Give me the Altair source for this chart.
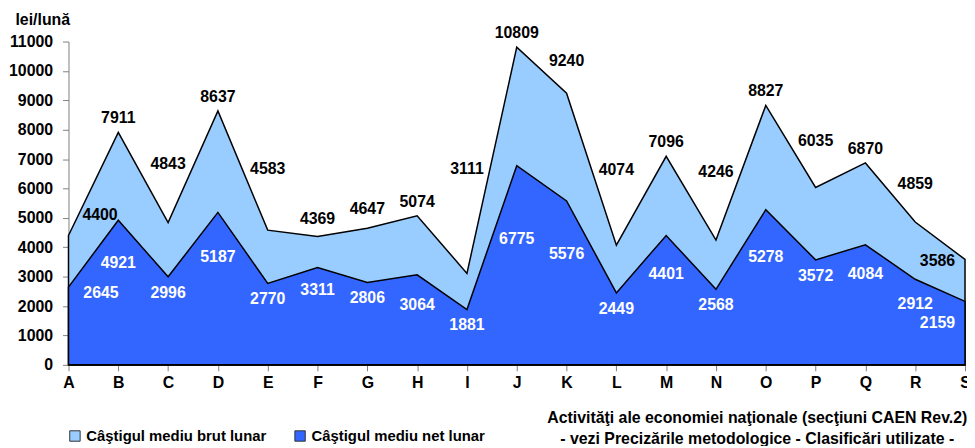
import altair as alt
import pandas as pd

cats = list("ABCDEFGHIJKLMNOPQRS")
brut = [4400, 7911, 4843, 8637, 4583, 4369, 4647, 5074, 3111, 10809,
        9240, 4074, 7096, 4246, 8827, 6035, 6870, 4859, 3586]
net = [2645, 4921, 2996, 5187, 2770, 3311, 2806, 3064, 1881, 6775,
       5576, 2449, 4401, 2568, 5278, 3572, 4084, 2912, 2159]
series_names = ["Câştigul mediu brut lunar", "Câştigul mediu net lunar"]
y_ticks = list(range(0, 11001, 1000))
x_title = ["Activităţi ale economiei naţionale (secţiuni CAEN Rev.2)",
           "- vezi Precizările metodologice - Clasificări utilizate -"]

rows = []
for c, v in zip(cats, brut):
    rows.append({"cat": c, "val": v, "serie": series_names[0]})
for c, v in zip(cats, net):
    rows.append({"cat": c, "val": v, "serie": series_names[1]})
df = pd.DataFrame(rows)

FONT = "Liberation Sans"

x_enc = alt.X("cat:N", sort=cats, scale=alt.Scale(padding=0),
              axis=alt.Axis(title=x_title, labelAngle=0, labelFontSize=16,
                            labelFontWeight="bold", labelColor="black",
                            labelPadding=4, tickSize=6, tickColor="#808080",
                            domainColor="black", titleFontSize=16,
                            titleFontWeight="bold", titleColor="black",
                            titleAlign="center", titleAnchor="start",
                            titleX=694, titleY=45, titleBaseline="top",
                            titleLineHeight=21))


def y_enc(field):
    return alt.Y(f"{field}:Q", stack=None,
                 scale=alt.Scale(domain=[0, 11000], nice=False),
                 axis=alt.Axis(title="lei/lună", values=y_ticks, format="d",
                               labelOverlap=False, grid=False,
                               labelFontSize=16, labelFontWeight="bold",
                               labelColor="black", labelPadding=10, tickSize=6,
                               tickColor="#808080", domainColor="#808080",
                               titleAngle=0, titleAlign="left", titleX=-54,
                               titleY=-22, titleBaseline="middle",
                               titleFontSize=16, titleFontWeight="bold",
                               titleColor="black"))


color_enc = alt.Color("serie:N",
                      scale=alt.Scale(domain=series_names,
                                      range=["#99CCFF", "#3366FF"]),
                      legend=alt.Legend(title=None, orient="none",
                                        direction="horizontal",
                                        legendX=-1, legendY=390,
                                        symbolType="square", symbolSize=110,
                                        symbolStrokeColor="#333333",
                                        symbolStrokeWidth=1,
                                        symbolOpacity=1,
                                        labelFontSize=15,
                                        labelFontWeight="bold",
                                        labelColor="black", labelLimit=400,
                                        labelOffset=4, columnPadding=26,
                                        padding=0))

base = alt.Chart(df)

area_brut = base.transform_filter(
    alt.datum.serie == series_names[0]
).mark_area(stroke="black", strokeWidth=1.5, opacity=1).encode(
    x=x_enc, y=y_enc("val"), color=color_enc)
area_net = base.transform_filter(
    alt.datum.serie == series_names[1]
).mark_area(stroke="black", strokeWidth=1.5, opacity=1).encode(
    x=x_enc, y=y_enc("val"), color=color_enc)

# label anchors: lift labels out of valleys (brut) / drop them below peaks (net)
lab = base.transform_window(
    window=[alt.WindowFieldDef(op="lag", field="val", **{"as": "prev"}),
            alt.WindowFieldDef(op="lead", field="val", **{"as": "next"})],
    groupby=["serie"], sort=[alt.SortField("cat")]
).transform_calculate(
    p2="isValid(datum.prev) ? datum.prev : datum.next",
    n2="isValid(datum.next) ? datum.next : datum.prev",
).transform_calculate(
    up="datum.val + 0.4 * max(0, max(datum.p2, datum.n2) - datum.val)",
    down="datum.val - 0.4 * max(0, datum.val - min(datum.p2, datum.n2))",
)

mid = (alt.datum.cat != cats[0]) & (alt.datum.cat != cats[-1])


def text_layer(serie, flt, field, color, align, baseline, dx, dy):
    return (lab.transform_filter(alt.datum.serie == serie)
            .transform_filter(flt)
            .mark_text(font=FONT, fontSize=16, fontWeight="bold", color=color,
                       baseline=baseline, align=align, dx=dx, dy=dy)
            .encode(x=x_enc, y=y_enc(field),
                    text=alt.Text("val:Q", format="d")))


labels = [
    text_layer(series_names[0], mid, "up", "black", "center", "bottom", 0, -6),
    text_layer(series_names[0], alt.datum.cat == cats[0], "val", "black",
               "left", "middle", 14, -21),
    text_layer(series_names[0], alt.datum.cat == cats[-1], "val", "black",
               "right", "middle", -10, 2),
    text_layer(series_names[1], mid, "down", "white", "center", "top", 0, 8),
    text_layer(series_names[1], alt.datum.cat == cats[0], "val", "white",
               "left", "middle", 15, 6),
    text_layer(series_names[1], alt.datum.cat == cats[-1], "val", "white",
               "right", "middle", -10, 22),
]

chart = alt.layer(area_brut, area_net, *labels).properties(
    width=904, height=326,
    autosize=alt.AutoSizeParams(type="none"),
    padding={"left": 61, "top": 32, "right": 2, "bottom": 80},
).configure(font=FONT).configure_view(stroke=None)

chart.save("out.html", embed_options={"renderer": "svg", "actions": False})
